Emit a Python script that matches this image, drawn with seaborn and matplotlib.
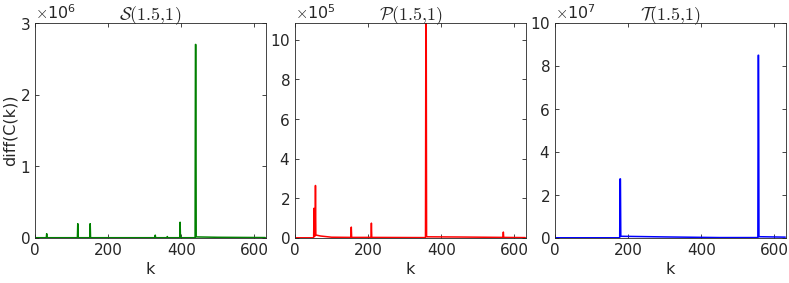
import numpy as np
import pandas as pd
import seaborn as sns
import matplotlib.pyplot as plt
from matplotlib.ticker import ScalarFormatter

# spike traces (k, diff(C(k)))
s_k = [0, 31, 32, 33, 116, 117, 118, 150, 151, 152, 328, 329, 330,
       361, 362, 363, 396, 397, 398, 438, 439, 440, 441, 500, 630]
s_val = [0.004e6, 0.004e6, 0.06e6, 0.004e6, 0.004e6, 0.2e6, 0.004e6,
         0.004e6, 0.2e6, 0.004e6, 0.004e6, 0.04e6, 0.004e6,
         0.004e6, 0.02e6, 0.004e6, 0.004e6, 0.22e6, 0.004e6,
         0.004e6, 2.7e6, 2.7e6, 0.015e6, 0.01e6, 0.006e6]

p_k = [0, 51, 52, 53, 55, 56, 57, 70, 100, 153, 154, 155, 208, 209, 210,
       357, 358, 359, 360, 361, 450, 569, 570, 571, 630]
p_val = [0.01e5, 0.01e5, 1.5e5, 0.1e5, 0.1e5, 2.65e5, 0.15e5, 0.1e5, 0.04e5,
         0.03e5, 0.55e5, 0.03e5, 0.03e5, 0.75e5, 0.03e5,
         0.02e5, 11e5, 11e5, 0.1e5, 0.06e5, 0.05e5, 0.03e5, 0.3e5, 0.03e5, 0.02e5]

t_k = [0, 177, 178, 179, 180, 300, 450, 555, 556, 557, 558, 630]
t_val = [0.01e7, 0.01e7, 2.75e7, 2.75e7, 0.08e7, 0.05e7, 0.02e7,
         0.02e7, 8.5e7, 8.5e7, 0.06e7, 0.04e7]

titles = [r'$\mathcal{S}(1.5{,}1)$', r'$\mathcal{P}(1.5{,}1)$', r'$\mathcal{T}(1.5{,}1)$']
colors = ['#008000', '#ff0000', '#0000ff']
ylims = [(0, 3e6), (0, 10.85e5), (0, 1e8)]
yticks = [[0, 1e6, 2e6, 3e6],
          [0, 2e5, 4e5, 6e5, 8e5, 10e5],
          [0, 2e7, 4e7, 6e7, 8e7, 10e7]]
exponents = [6, 5, 7]
xticks = [0, 200, 400, 600]

sns.set_style("ticks")
plt.rcParams['font.family'] = ['DejaVu Sans']
plt.rcParams['mathtext.fontset'] = 'cm'

fig = plt.figure(figsize=(7.89, 2.83), dpi=100)
lefts = [35 / 789, 295 / 789, 555 / 789]
axes = [fig.add_axes([l, 1 - 238 / 283, 231 / 789, 215 / 283]) for l in lefts]

series = [(s_k, s_val), (p_k, p_val), (t_k, t_val)]
for i, ax in enumerate(axes):
    df = pd.DataFrame({'k': series[i][0], 'v': series[i][1]})
    sns.lineplot(data=df, x='k', y='v', ax=ax, color=colors[i],
                 linewidth=1.1, estimator=None, sort=False)
    ax.set_xlim(0, 632)
    ax.set_ylim(*ylims[i])
    ax.set_xticks(xticks)
    ax.set_yticks(yticks[i])
    fmt = ScalarFormatter(useMathText=True)
    fmt.set_powerlimits((exponents[i], exponents[i]))
    ax.yaxis.set_major_formatter(fmt)
    ax.yaxis.get_offset_text().set_fontsize(11.5)
    ax.yaxis.get_offset_text().set_color('#262626')
    ax.tick_params(direction='in', top=True, right=True, labelsize=11,
                   length=3, width=0.6, colors='#262626')
    for sp in ax.spines.values():
        sp.set_linewidth(0.6)
        sp.set_color('#262626')
    ax.set_title(titles[i], fontsize=13, pad=2)
    ax.set_xlabel('k', fontsize=11.5, color='#262626', labelpad=3)
    ax.set_ylabel('')

axes[0].set_ylabel('diff(C(k))', fontsize=11.5, color='#262626', labelpad=1)

fig.savefig('out.png', dpi=100)
